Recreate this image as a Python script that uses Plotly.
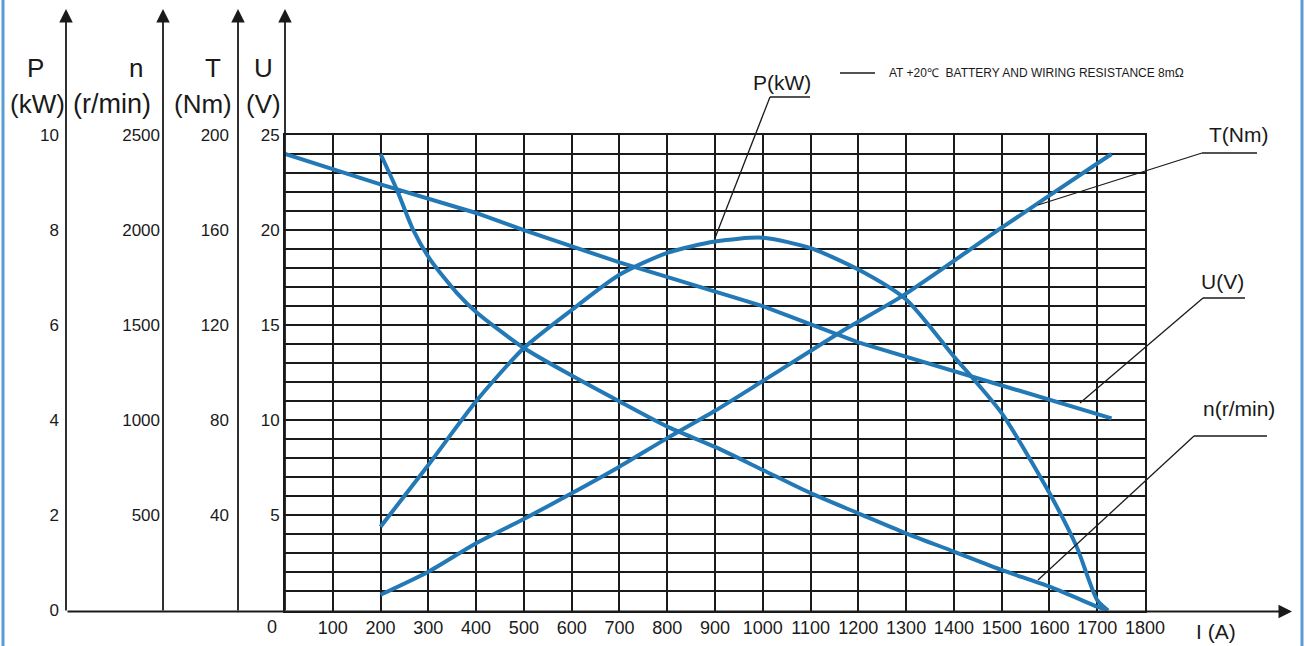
import plotly.graph_objects as go

W, H = 1306, 646

# ---------------- data ----------------
# Power P (kW) vs current I (A)
current_p = [200, 300, 400, 500, 600, 700, 800, 900, 1000, 1100, 1200, 1300, 1400, 1440, 1500, 1600, 1657, 1700, 1723]
power_kw = [1.76, 3.06, 4.40, 5.52, 6.32, 7.06, 7.52, 7.76, 7.84, 7.62, 7.17, 6.54, 5.34, 4.88, 4.15, 2.47, 1.34, 0.22, 0.0]

# Speed n (r/min) vs current
current_n = [200, 234, 268, 304, 360, 400, 500, 600, 700, 800, 900, 1000, 1100, 1200, 1300, 1400, 1500, 1600, 1700, 1720]
speed_rpm = [2400, 2213, 2003, 1845, 1669, 1570, 1380, 1235, 1099, 967, 860, 739, 617, 511, 406, 310, 213, 125, 20, 0]

# Torque T (Nm) vs current
current_t = [200, 300, 400, 500, 600, 700, 800, 900, 1000, 1170, 1290, 1500, 1700, 1730]
torque_nm = [6.6, 16.3, 28.3, 38.5, 49.3, 60.5, 72.5, 84.0, 96.5, 118, 132, 161, 188, 192]

# Voltage U (V) vs current
current_u = [0, 200, 400, 500, 700, 1000, 1200, 1600, 1730]
voltage_v = [24.0, 22.4, 20.9, 20.0, 18.3, 16.0, 14.1, 11.1, 10.1]

x_ticks = list(range(0, 1900, 100))
u_ticks = [5, 10, 15, 20, 25]
p_ticks = [0, 2, 4, 6, 8, 10]
n_ticks = [500, 1000, 1500, 2000, 2500]
t_ticks = [40, 80, 120, 160, 200]

# ---------------- styling ----------------
BLUE = "#2379b6"
INK = "#1a1a1a"
SANS = "Liberation Sans, Arial, sans-serif"


def px(x):
    return x / W


def py(y):
    return 1 - y / H


fig = go.Figure()
curve = dict(color=BLUE, width=4, shape="spline", smoothing=0.7)
fig.add_trace(go.Scatter(x=current_u, y=voltage_v, yaxis="y", mode="lines",
                         line=dict(color=BLUE, width=4)))
fig.add_trace(go.Scatter(x=current_p, y=power_kw, yaxis="y2", mode="lines", line=curve))
fig.add_trace(go.Scatter(x=current_n, y=speed_rpm, yaxis="y3", mode="lines", line=curve))
fig.add_trace(go.Scatter(x=current_t, y=torque_nm, yaxis="y4", mode="lines", line=curve))

tickfont = dict(family=SANS, size=17, color=INK)

free_axis = dict(overlaying="y", anchor="free", side="left", showgrid=False,
                 zeroline=False, showline=False, ticks="", tickfont=tickfont,
                 automargin=False, fixedrange=True)

fig.update_layout(
    template="none",
    width=W, height=H,
    margin=dict(l=0, r=0, t=0, b=0, pad=0, autoexpand=False),
    paper_bgcolor="white", plot_bgcolor="white",
    showlegend=False,
    xaxis=dict(domain=[px(285), px(1145)], range=[0, 1800],
               tickvals=x_ticks,
               ticktext=[""] + [str(v) for v in x_ticks[1:]],
               tickangle=0, automargin=False,
               showgrid=True, gridcolor=INK, gridwidth=1.7,
               showline=True, mirror=True, linecolor=INK, linewidth=1.7,
               zeroline=False, ticks="", tickfont=dict(family=SANS, size=18, color=INK),
               fixedrange=True),
    yaxis=dict(domain=[py(610.5), py(135)], range=[0, 25],
               tickvals=list(range(26)),
               ticktext=[str(v) if v in u_ticks else "" for v in range(26)],
               automargin=False,
               showgrid=True, gridcolor=INK, gridwidth=1.7,
               showline=True, mirror=True, linecolor=INK, linewidth=1.7,
               zeroline=False, ticks="", tickfont=tickfont, fixedrange=True),
    yaxis2=dict(free_axis, position=px(66), range=[0, 10], tickvals=p_ticks,
                ticklabelstandoff=7),
    yaxis3=dict(free_axis, position=px(163), range=[0, 2500], tickvals=n_ticks,
                ticklabelstandoff=3),
    yaxis4=dict(free_axis, position=px(238), range=[0, 200], tickvals=t_ticks,
                ticklabelstandoff=9),
)

ann = []
# vertical axis lines with arrow heads
for xp in [66, 163, 238, 285]:
    ann.append(dict(x=px(xp), y=py(9), xref="paper", yref="paper", text="",
                    showarrow=True, ax=0, ay=603, arrowhead=2, arrowsize=1.5,
                    arrowwidth=1.8, arrowcolor=INK))
# horizontal current axis
ann.append(dict(x=px(1292), y=py(611.5), xref="paper", yref="paper", text="",
                showarrow=True, ax=-(1292 - 66), ay=0, arrowhead=2, arrowsize=1.5,
                arrowwidth=1.8, arrowcolor=INK))


def label(text, x, y, size=26, xanchor="center"):
    ann.append(dict(x=px(x), y=py(y), xref="paper", yref="paper", text=text,
                    showarrow=False, xanchor=xanchor, yanchor="middle",
                    font=dict(family=SANS, size=size, color=INK)))


# axis titles
label("P", 35, 68)
label("(kW)", 37, 104)
label("n", 136, 68)
label("(r/min)", 112, 104, size=27)
label("T", 213, 68)
label("(Nm)", 203, 104)
label("U", 263, 68)
label("(V)", 263, 104)
label("0", 272, 627, size=18)
label("I (A)", 1216, 631, size=21)

# curve labels
label("P(kW)", 782, 82, size=21)
label("T(Nm)", 1238, 135, size=21)
label("U(V)", 1222, 281, size=21)
label("n(r/min)", 1239, 408, size=21)

# note
label("AT +20℃  BATTERY AND WIRING RESISTANCE 8mΩ", 887, 73, size=12, xanchor="left")

fig.update_layout(annotations=ann)

shapes = []


def seg(x0, y0, x1, y1, color=INK, width=1.3):
    shapes.append(dict(type="line", xref="paper", yref="paper",
                       x0=px(x0), y0=py(y0), x1=px(x1), y1=py(y1),
                       line=dict(color=color, width=width)))


# leader lines
seg(770, 97, 810, 97)
seg(770, 97, 715, 238)
seg(1202, 153, 1257, 153)
seg(1202, 153, 1038, 205)
seg(1203, 298, 1245, 298)
seg(1203, 298, 1080, 403)
seg(1194, 436, 1267, 436)
seg(1194, 436, 1038, 580)
# note dash
seg(840, 73, 875, 73, width=1.6)
# blue frame edges
seg(3, 0, 3, 646, color="#5b9bd5", width=3)
seg(1302, 0, 1302, 646, color="#5b9bd5", width=3)

fig.update_layout(shapes=shapes)

fig.write_html("out.html", config={"displayModeBar": False},
               post_script="document.body.style.margin='0';")
